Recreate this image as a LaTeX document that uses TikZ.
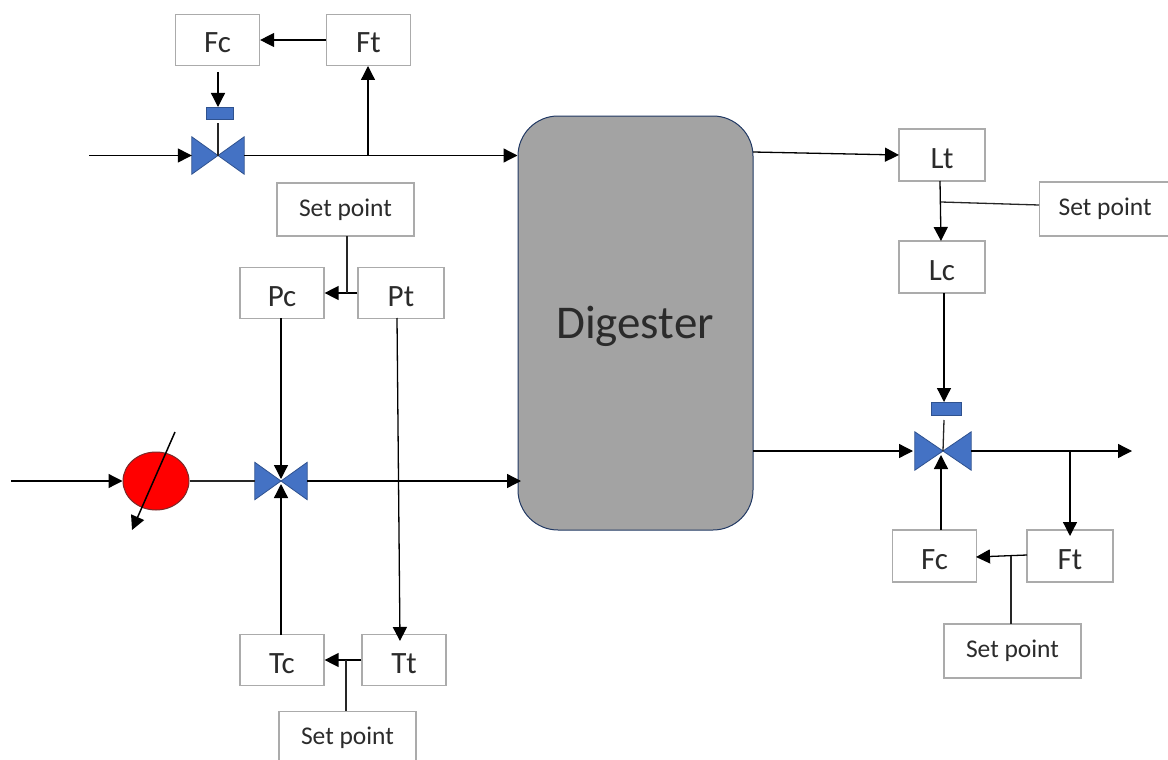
\documentclass[tikz,border=0pt]{standalone}
\usepackage{fontspec}
\setmainfont{Carlito}
\usetikzlibrary{arrows.meta,calc,shapes.geometric}
\definecolor{boxline}{HTML}{ABABAB}
\definecolor{txt}{HTML}{2B2B2B}
\definecolor{valveblue}{HTML}{4472C4}
\definecolor{valveedge}{HTML}{2F528F}
\definecolor{tank}{HTML}{A3A3A3}
\definecolor{pumpedge}{HTML}{7A2A2A}
\newcommand{\valveshape}[1]{%
  \filldraw[valvebody] (#1.north west) -- (#1.center) -- (#1.south west) -- cycle;
  \filldraw[valvebody] (#1.north east) -- (#1.center) -- (#1.south east) -- cycle;}
\tikzset{
  x=1pt,y=-1pt,
  tag/.style={draw=boxline,line width=1.2pt,fill=white,text=txt,inner sep=0pt,font=\fontsize{31}{31}\selectfont},
  ctl/.style={tag,minimum width=84pt,minimum height=51pt,text height=26pt,text depth=0pt},
  setp/.style={tag,minimum width=137pt,minimum height=53pt,font=\fontsize{25.5}{25.5}\selectfont},
  valvenode/.style={inner sep=0pt,minimum width=52pt,minimum height=37pt},
  valvebody/.style={fill=valveblue,draw=valveedge,line width=0.8pt},
  actuator/.style={fill=valveblue,draw=valveedge,line width=0.8pt,inner sep=0pt},
  flow/.style={draw=black,line width=1.3pt,-{Triangle[length=14pt,width=14pt]}},
  plain/.style={draw=black!85,line width=1.3pt},
}
\begin{document}
\begin{tikzpicture}
\useasboundingbox (0,0) rectangle (1168,760);
% digester
\node[draw=valveedge!70!black,line width=1pt,fill=tank,rounded corners=40pt,minimum width=235pt,minimum height=414pt,inner sep=0pt] (dig) at (635.5,323) {};
\node[text=txt,inner sep=0pt,font=\fontsize{47}{47}\selectfont] (digl) at (635,326) {Digester};
% top group
\node[ctl] (fc1) at (217.5,40) {Fc};
\node[ctl] (ft1) at (368.5,40) {Ft};
\node[setp] (sp1) at (345.5,209.5) {Set point};
\node[ctl] (pc) at (282,293) {Pc};
\node[ctl,minimum width=86pt] (pt) at (401,293) {Pt};
\node[ctl] (tc) at (282,660) {Tc};
\node[ctl] (tt) at (404,660) {Tt};
\node[setp,anchor=north] (sp2) at (347.5,711) {Set point};
\node[ctl,minimum width=86pt,minimum height=52pt] (lt) at (942,155) {Lt};
\node[ctl,minimum width=86pt,minimum height=52pt] (lc) at (942,267) {Lc};
\node[setp,minimum width=131pt,minimum height=54pt,anchor=west] (sp3) at (1039,209) {Set point};
\node[ctl,minimum height=52pt] (fc2) at (934.5,556) {Fc};
\node[ctl,minimum width=86pt,minimum height=52pt] (ft2) at (1070,556) {Ft};
\node[setp,minimum height=54pt] (sp4) at (1012.5,651) {Set point};
% valves
\node[valvenode] (v1) at (218,155.5) {};
\node[valvenode] (v2) at (281,481) {};
\node[valvenode,minimum width=56pt,minimum height=38pt] (v3) at (943,451) {};
\valveshape{v1}\valveshape{v2}\valveshape{v3}
\node[actuator,minimum width=27pt,minimum height=12pt] (a1) at (219.5,113) {};
\node[actuator,minimum width=30pt,minimum height=13pt] (a3) at (946,408.5) {};
% pump
\node[ellipse,draw=pumpedge,line width=1pt,fill=red,minimum width=66pt,minimum height=58pt,inner sep=0pt] (pump) at (156,481) {};
% free ends and junctions
\coordinate (in1) at (89,155.5);
\coordinate (in2) at (11,481);
\coordinate (out3) at (1132,451);
\coordinate (d1) at (753,152);
\coordinate (d1e) at (899,155);
\coordinate (j1) at (368,155.5);
\coordinate (j1e) at (368,66);
\coordinate (fc1o) at (218,72);
\coordinate (fc1v) at (218,107);
\coordinate (a1o) at (218,123);
\coordinate (spj) at (347,293);
\coordinate (sp1o) at (347,236);
\coordinate (pco) at (281,318);
\coordinate (pte) at (397,318);
\coordinate (tte) at (400,641);
\coordinate (v2t) at (281,479);
\coordinate (v2b) at (281,484);
\coordinate (tco) at (281,635);
\coordinate (spk) at (346,660);
\coordinate (sp2o) at (346,711);
\coordinate (dig2) at (521,481);
\coordinate (lto) at (940,181);
\coordinate (lte) at (941,241);
\coordinate (lj) at (941,202);
\coordinate (sp3o) at (1039,205);
\coordinate (lco) at (944,293);
\coordinate (lce) at (944,402);
\coordinate (a3o) at (944,420);
\coordinate (d3) at (753,451);
\coordinate (d3e) at (913,451);
\coordinate (j3) at (1070,451);
\coordinate (j3e) at (1070,536);
\coordinate (fc2o) at (941,530);
\coordinate (fc2e) at (941,455);
\coordinate (ft2o) at (1027,555);
\coordinate (fc2i) at (976,557);
\coordinate (j4) at (1011,556);
\coordinate (sp4o) at (1011,624);
\coordinate (ptst) at (175,432);
\coordinate (pten) at (132,530);
% connectors
\draw[flow] (ft1.west) -- (fc1.east);
\draw[flow] (in1) -- (v1.west);
\draw[flow] (v1.east) -- (dig.west |- v1);
\draw[flow] (j1) -- (j1e);
\draw[flow] (fc1o) -- (fc1v);
\draw[plain] (a1o) -- (v1.center);
\draw[flow] (pt.west) -- (pc.east);
\draw[plain] (sp1o) -- (spj);
\draw[flow] (pco) -- (v2t);
\draw[flow] (tco) -- (v2b);
\draw[flow] (pte) -- (tte);
\draw[flow] (tt.west) -- (tc.east);
\draw[plain] (spk) -- (sp2o);
\draw[flow] (in2) -- (pump.west);
\draw[plain] (pump.east) -- (v2.west);
\draw[flow] (v2.east) -- (dig2);
\draw[flow,line width=1.5pt] (ptst) -- (pten);
\draw[flow] (d1) -- (d1e);
\draw[flow] (lto) -- (lte);
\draw[plain] (sp3o) -- (lj);
\draw[flow] (lco) -- (lce);
\draw[plain] (a3o) -- (v3.center);
\draw[flow] (d3) -- (d3e);
\draw[flow] (v3.east) -- (out3);
\draw[flow] (j3) -- (j3e);
\draw[flow] (fc2o) -- (fc2e);
\draw[flow] (ft2o) -- (fc2i);
\draw[plain] (j4) -- (sp4o);
\end{tikzpicture}
\end{document}
